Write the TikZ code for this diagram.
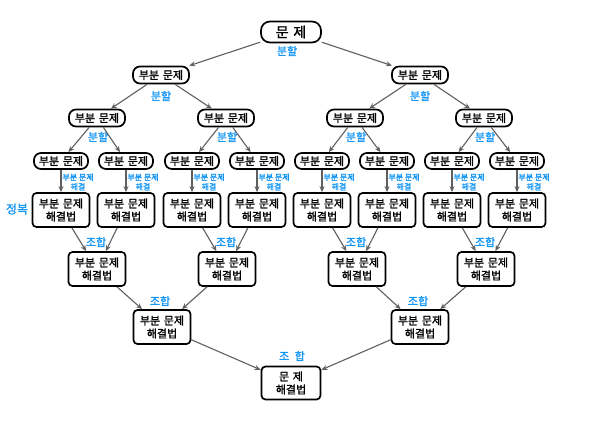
\documentclass[tikz,border=0pt]{standalone}
\usepackage{fontspec}
\setmainfont{Noto Sans CJK KR}[AutoFakeBold=1.5]
\usepackage{tikz}
\usetikzlibrary{positioning}
\usetikzlibrary{arrows.meta}
\usetikzlibrary{calc}

\definecolor{splitblue}{RGB}{20,150,245}
\definecolor{linkgray}{RGB}{95,95,95}

\tikzset{
  probbox/.style={draw, line width=1.7pt, rounded corners=7pt, minimum width=56pt, minimum height=17pt, inner sep=1pt, font=\fontsize{11}{12}\selectfont\bfseries},
  solbox/.style={draw, line width=1.7pt, rounded corners=4pt, minimum width=57pt, minimum height=34pt, inner sep=1pt, align=center, font=\fontsize{11}{13}\selectfont\bfseries},
  bluetag/.style={text=splitblue, inner sep=0pt, font=\fontsize{11}{12}\selectfont\bfseries},
  smalltag/.style={text=splitblue, inner sep=0pt, align=center, font=\fontsize{8}{9.5}\selectfont\bfseries},
  link/.style={draw=linkgray, line width=1.1pt, -{Stealth[length=6pt,width=5pt]}},
}

\begin{document}
\begin{tikzpicture}[x=1pt, y=-1pt]
 \useasboundingbox (0,0) rectangle (612,430);

 %level 0
 \node[probbox, minimum width=60pt, minimum height=21pt, rounded corners=9pt, font=\fontsize{14}{15}\selectfont\bfseries] (p) at (291,32) {문\,\,제};
 \node[bluetag] (d) at (287,51) {분할};

 %level 1
 \foreach \i/\x in {1/161, 2/420} {
    \node[probbox] (p\i) at (\x,75) {부분\,\,문제};
    \draw[link] (p) -- (p\i);
    \node[bluetag] (d\i) at (\x,96) {분할};
 }

 %level 2
 \foreach \i/\x/\up in {1/97/1, 2/226/1, 3/355/2, 4/484/2} {
    \node[probbox] (q\i) at (\x,118) {부분\,\,문제};
    \draw[link] (p\up) -- (q\i);
    \node[bluetag] (e\i) at (\x+1,137) {분할};
 }

 %level 3 and 4
 \def\dy{161}
 \foreach \i/\x/\up in {1/61/1, 2/126/1, 3/192/2, 4/257/2, 5/322/3, 6/387/3, 7/452/4, 8/517/4} {
    \node[probbox, minimum width=54pt, minimum height=16pt] (r\i) at (\x,\dy) {부분\,\,문제};
    \draw[link] (q\up) -- (r\i);
    \node[solbox] (s\i) at (\x,210) {부분\,\,문제\\해결법};
    \draw[link] (r\i) -- (s\i);
    \node[smalltag] (f\i) at (\x+17,182) {부분 문제\\해결};
 }
 \node[bluetag, font=\fontsize{12}{13}\selectfont\bfseries] (conquer) at (17,209) {정복};

 %level 5
 \foreach \i/\x/\a/\b in {1/97/1/2, 2/227/3/4, 3/357/5/6, 4/486/7/8} {
    \node[solbox] (t\i) at (\x,269) {부분\,\,문제\\해결법};
    \draw[link] (s\a) -- (t\i);
    \draw[link] (s\b) -- (t\i);
    \node[bluetag] (g\i) at (\x-1,242) {조합};
 }

 %level 6
 \foreach \i/\x/\a/\b in {1/162/1/2, 2/420/3/4} {
    \node[solbox] (u\i) at (\x,327) {부분\,\,문제\\해결법};
    \draw[link] (t\a) -- (u\i);
    \draw[link] (t\b) -- (u\i);
    \node[bluetag] (h\i) at (\x-2,301) {조합};
 }

 %level 7
 \node[solbox, minimum width=59pt, minimum height=33pt] (v) at (291,383) {문\,\,제\\해결법};
 \draw[link] (u1) -- (v);
 \draw[link] (u2) -- (v);
 \node[bluetag] (k) at (292,356) {조\,\,\,합};

\end{tikzpicture}
\end{document}
